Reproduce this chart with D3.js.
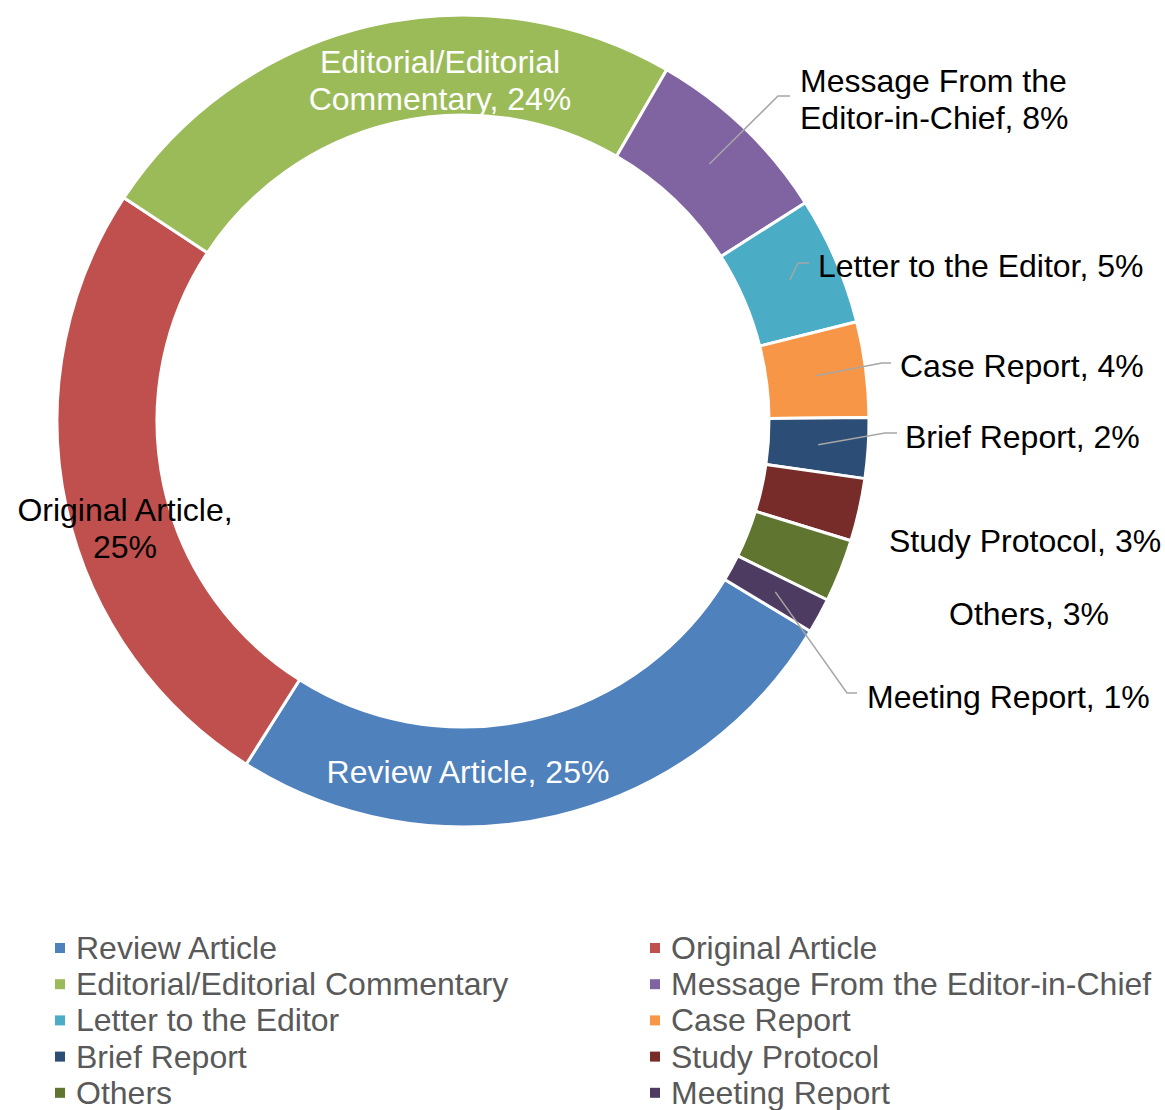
<!DOCTYPE html>
<html>
<head>
<meta charset="utf-8">
<script src="https://cdn.jsdelivr.net/npm/d3@7"></script>
<style>
  body { margin: 0; background: #fff; }
  text { font-family: "Liberation Sans", Arial, sans-serif; }
</style>
</head>
<body>
<div id="graphicContainer"></div>
<script>

// categories, in slice order (clockwise)
const categories = [
  "Review Article",
  "Original Article",
  "Editorial/Editorial Commentary",
  "Message From the Editor-in-Chief",
  "Letter to the Editor",
  "Case Report",
  "Brief Report",
  "Study Protocol",
  "Others",
  "Meeting Report"
]

// share of articles (%)
const shares = [25.3, 25.3, 24.1, 7.6, 5.1, 3.8, 2.4, 2.5, 2.5, 1.4]

// percent text shown in the data labels
const shareLabels = ["25%", "25%", "24%", "8%", "5%", "4%", "2%", "3%", "3%", "1%"]

// label text lines (category part)
const labelLines = [
  ["Review Article, {p}"],
  ["Original Article,", "{p}"],
  ["Editorial/Editorial", "Commentary, {p}"],
  ["Message From the", "Editor-in-Chief, {p}"],
  ["Letter to the Editor, {p}"],
  ["Case Report, {p}"],
  ["Brief Report, {p}"],
  ["Study Protocol, {p}"],
  ["Others, {p}"],
  ["Meeting Report, {p}"]
]

const colorList = ["#4F81BD", "#C0504D", "#9BBB59", "#8064A2", "#4BACC6",
                   "#F79646", "#2C4D75", "#772C2A", "#5F7530", "#4D3B62"]

// layout
const width = 1165
const height = 1110
const cx = 463
const cy = 421
const outerR = 406
const innerR = 306
const firstSliceAngle = 121.2
const fontSize = 32
const lineH = 37

// label placement (x, first baseline, anchor, fill, leader elbow)
const labelPos = [
  { x: 468, y: 783, anchor: "middle", fill: "#fff" },
  { x: 125, y: 521, anchor: "middle", fill: "#000" },
  { x: 440, y: 73,  anchor: "middle", fill: "#fff" },
  { x: 800, y: 92,  anchor: "start", fill: "#000", elbow: [778, 96], end: 790 },
  { x: 818, y: 277, anchor: "start", fill: "#000", elbow: [798, 263], end: 809 },
  { x: 900, y: 377, anchor: "start", fill: "#000", elbow: [882, 363], end: 891 },
  { x: 905, y: 448, anchor: "start", fill: "#000", elbow: [885, 433], end: 897 },
  { x: 889, y: 552, anchor: "start", fill: "#000" },
  { x: 949, y: 625, anchor: "start", fill: "#000" },
  { x: 867, y: 708, anchor: "start", fill: "#000", elbow: [847, 693], end: 857 }
]

const colors = d3.scaleOrdinal().domain(categories).range(colorList)

const svg = d3.select("#graphicContainer")
  .append("svg")
  .attr("width", width)
  .attr("height", height)

const datum = categories.map((c, i) => ({ name: c, value: shares[i], pct: shareLabels[i], i: i }))

const start = firstSliceAngle * Math.PI / 180

const pie = d3.pie()
  .value(d => d.value)
  .sort(null)
  .startAngle(start)
  .endAngle(start + 2 * Math.PI)

const arc = d3.arc()
  .innerRadius(innerR)
  .outerRadius(outerR)

const arcs = pie(datum)

const features = svg.append("g")
  .attr("transform", "translate(" + cx + "," + cy + ")")

features.selectAll("path.slice")
  .data(arcs)
  .enter()
  .append("path")
  .attr("class", "slice")
  .attr("d", arc)
  .attr("fill", d => colors(d.data.name))
  .attr("stroke", "#fff")
  .attr("stroke-width", 3)
  .attr("stroke-linejoin", "round")

// leader lines from the slice centroid to the label
arcs.forEach((a) => {
  const pos = labelPos[a.data.i]
  if (!pos.elbow) return
  const c = arc.centroid(a)
  const pts = [[c[0] + cx, c[1] + cy], pos.elbow, [pos.end, pos.elbow[1]]]
  svg.append("path")
    .attr("d", d3.line()(pts))
    .attr("fill", "none")
    .attr("stroke", "#A6A6A6")
    .attr("stroke-width", 1.5)
})

// data labels
arcs.forEach((a) => {
  const pos = labelPos[a.data.i]
  const t = svg.append("text")
    .attr("x", pos.x)
    .attr("y", pos.y)
    .attr("text-anchor", pos.anchor)
    .attr("fill", pos.fill)
    .style("font-size", fontSize + "px")
  labelLines[a.data.i].forEach((line, j) => {
    t.append("tspan")
      .attr("x", pos.x)
      .attr("dy", j == 0 ? 0 : lineH)
      .text(line.replace("{p}", a.data.pct))
  })
})

// legend, two columns
const legend = svg.append("g").attr("class", "legend")
const legendCols = [55, 650]
const legendTop = 948
const legendStep = 36.2

categories.forEach((c, i) => {
  const col = i % 2
  const row = Math.floor(i / 2)
  const y = legendTop + row * legendStep
  const g = legend.append("g")
    .attr("transform", "translate(" + legendCols[col] + "," + y + ")")
  g.append("rect")
    .attr("x", 0)
    .attr("y", -5)
    .attr("width", 10)
    .attr("height", 10)
    .attr("fill", colors(c))
  g.append("text")
    .attr("x", 21)
    .attr("y", 11)
    .attr("fill", "#595959")
    .style("font-size", "32px")
    .text(c)
})

</script>
</body>
</html>
